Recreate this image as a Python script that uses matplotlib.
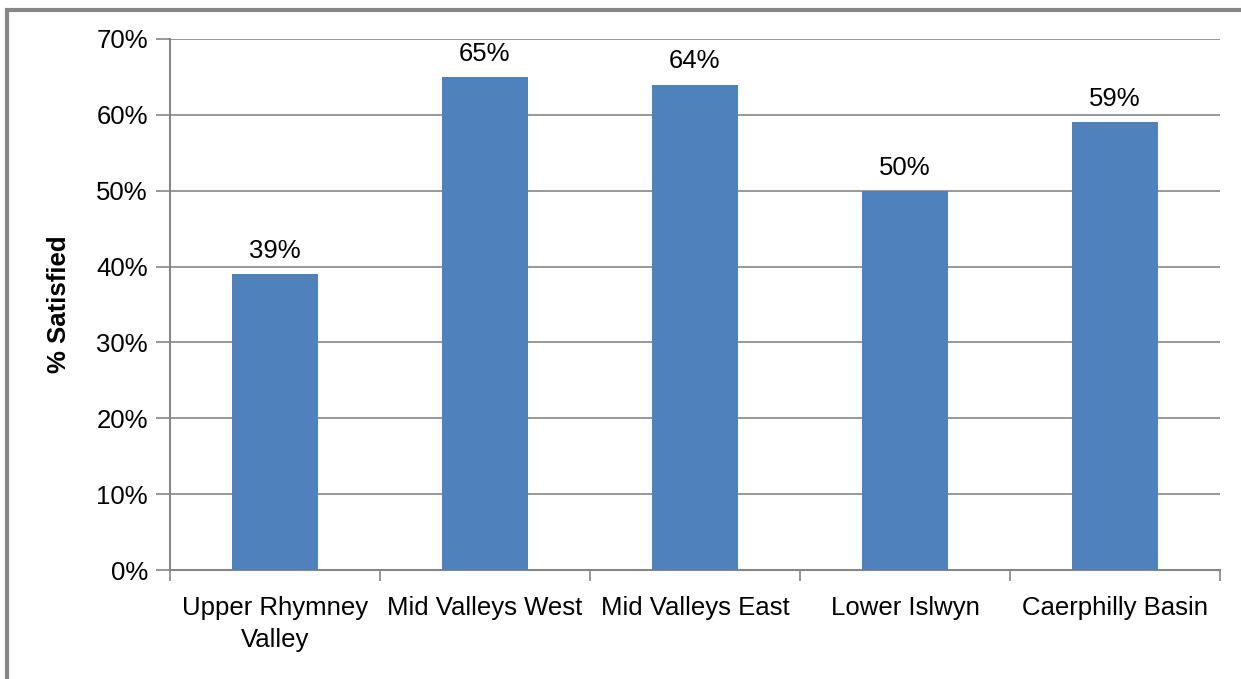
import matplotlib.pyplot as plt
from matplotlib.patches import Rectangle
import numpy as np

plt.rcParams['font.family'] = ['Liberation Sans', 'DejaVu Sans']

categories = ['Upper Rhymney\nValley', 'Mid Valleys West', 'Mid Valleys East',
              'Lower Islwyn', 'Caerphilly Basin']
satisfied = [39, 65, 64, 50, 59]
yticks = [0, 10, 20, 30, 40, 50, 60, 70]

bar_color = '#4f81bd'
grid_color = '#868686'
fs = 18.5

fig = plt.figure(figsize=(12.41, 6.79), dpi=100)
ax = fig.add_axes([170/1241, 1 - 570/679, 1050/1241, 531/679])

x = np.arange(len(categories))
ax.bar(x, satisfied, width=0.405, color=bar_color, zorder=3)

for xi, v in zip(x, satisfied):
    ax.annotate(f'{v}%', (xi, v), xytext=(0, 8), textcoords='offset points',
                ha='center', va='bottom', fontsize=fs)

ax.set_xlim(-0.5, len(categories) - 0.5)
ax.set_ylim(0, 70)
ax.set_yticks(yticks)
ax.set_yticklabels([f'{t}%' for t in yticks], fontsize=fs)
ax.set_xticks(x)
ax.set_xticklabels(categories, fontsize=fs, linespacing=1.4)
ax.set_xticks(np.arange(len(categories) + 1) - 0.5, minor=True)
ax.tick_params(axis='x', which='major', length=0, pad=19)
ax.tick_params(axis='x', which='minor', length=8, color=grid_color, width=1.2)
ax.tick_params(axis='y', length=10, color=grid_color, width=1.2, pad=6)

ax.yaxis.grid(True, color=grid_color, linewidth=1.2, zorder=0)
for s in ['top', 'right']:
    ax.spines[s].set_visible(False)
for s in ['left', 'bottom']:
    ax.spines[s].set_color(grid_color)
    ax.spines[s].set_linewidth(1.5)

ax.set_ylabel('% Satisfied', fontsize=fs, fontweight='bold', labelpad=18)

# outer chart frame
fig.patches.append(Rectangle((7/1241, -0.1), 1.2, 1 - 10/679 + 0.1,
                             transform=fig.transFigure, fill=False,
                             edgecolor='#878787', linewidth=3))

fig.savefig('out.png', dpi=100)
